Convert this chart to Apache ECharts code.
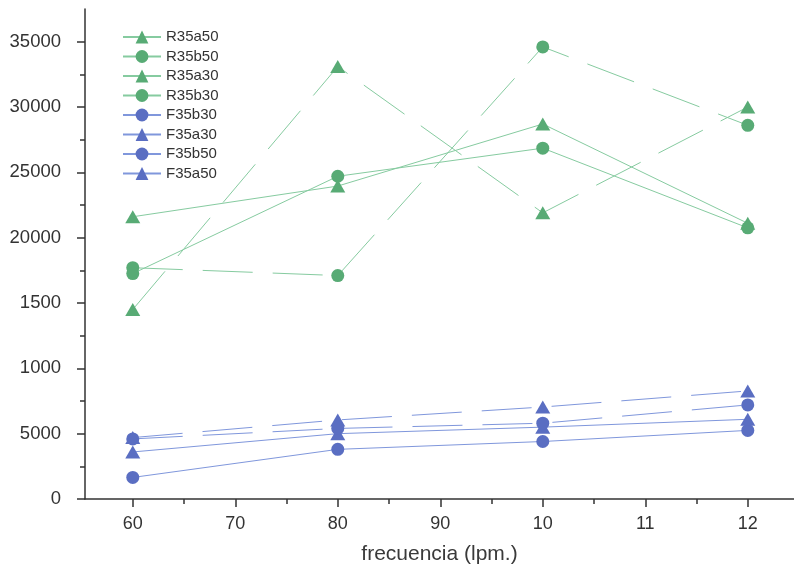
<!DOCTYPE html>
<html>
<head>
<meta charset="utf-8">
<script src="https://cdn.jsdelivr.net/npm/echarts@6/dist/echarts.min.js"></script>
<style>html,body{margin:0;padding:0;background:#fff}#c{width:794px;height:574px}</style>
</head>
<body>
<div id="c"></div>
<script>
var xValues = [60, 80, 100, 120];
var seriesNames = ['R35a50', 'R35b50', 'R35a30', 'R35b30', 'F35b30', 'F35a30', 'F35b50', 'F35a50'];
var R35a50 = [14500, 33100, 21900, 30000];
var R35b50 = [17700, 17100, 34600, 28600];
var R35a30 = [21600, 23950, 28700, 21100];
var R35b30 = [17250, 24700, 26850, 20750];
var F35b30 = [1650, 3800, 4400, 5250];
var F35a30 = [3600, 5000, 5500, 6100];
var F35b50 = [4600, 5400, 5800, 7200];
var F35a50 = [4700, 6050, 7040, 8270];
var xTickValues = [60, 70, 80, 90, 100, 110, 120];
var xTickLabels = ['60', '70', '80', '90', '10', '11', '12'];
var xMinorTicks = [65, 75, 85, 95, 105, 115];
var yTickValues = [0, 5000, 10000, 15000, 20000, 25000, 30000, 35000];
var yTickLabels = ['0', '5000', '1000', '1500', '20000', '25000', '30000', '35000'];
var yMinorTicks = [2500, 7500, 12500, 17500, 22500, 27500, 32500];

var greenMarker = '#58ab75', greenLine = '#86cba0';
var blueMarker = '#5a6ec2', blueLine = '#8097dc';
var FONT = 'Liberation Sans, Arial, sans-serif';

function mk(name, vals, symbol, dashed, green) {
  return {
    name: name, type: 'line', xAxisIndex: 0, yAxisIndex: 0,
    data: xValues.map(function (x, i) { return [x, vals[i]]; }),
    symbol: symbol,
    symbolSize: symbol === 'triangle' ? [15, 13] : 13,
    itemStyle: { color: green ? greenMarker : blueMarker },
    lineStyle: { color: green ? greenLine : blueLine, width: 1, type: dashed ? [50, 20] : 'solid' },
    emphasis: { disabled: true },
    animation: false
  };
}

var series = [
  mk('R35a50', R35a50, 'triangle', true, true),
  mk('R35b50', R35b50, 'circle', true, true),
  mk('R35a30', R35a30, 'triangle', false, true),
  mk('R35b30', R35b30, 'circle', false, true),
  mk('F35b30', F35b30, 'circle', false, false),
  mk('F35a30', F35a30, 'triangle', false, false),
  mk('F35b50', F35b50, 'circle', true, false),
  mk('F35a50', F35a50, 'triangle', true, false)
];

var axisCol = '#333';
var option = {
  animation: false,
  backgroundColor: '#fff',
  grid: { left: 85, right: 0, top: 9, bottom: 75, containLabel: false },
  legend: {
    data: seriesNames,
    orient: 'vertical', left: 117, top: 24, padding: 5,
    itemWidth: 38, itemHeight: 16, itemGap: 3.5,
    textStyle: { fontSize: 15, lineHeight: 16, color: '#333', fontFamily: FONT }
  },
  xAxis: [{
    type: 'value', min: 55.34, max: 124.51,
    axisLine: { show: true, lineStyle: { color: axisCol, width: 1.5 } },
    axisTick: { show: true, customValues: xTickValues, length: 8, lineStyle: { color: axisCol, width: 1.5 } },
    axisLabel: {
      customValues: xTickValues, margin: 16, fontSize: 18, color: '#333', fontFamily: FONT,
      formatter: function (v) { var i = xTickValues.indexOf(v); return i >= 0 ? xTickLabels[i] : ''; }
    },
    splitLine: { show: false },
    name: 'frecuencia (lpm.)', nameLocation: 'middle', nameGap: 45,
    nameTextStyle: { fontSize: 21, color: '#3a3a3a', fontFamily: FONT }
  }, {
    type: 'value', min: 55.34, max: 124.51, position: 'bottom',
    axisLine: { show: false },
    axisTick: { show: true, customValues: xMinorTicks, length: 5, lineStyle: { color: axisCol, width: 1.5 } },
    axisLabel: { show: false },
    splitLine: { show: false }
  }],
  yAxis: [{
    type: 'value', min: 0, max: 37500,
    axisLine: { show: true, lineStyle: { color: axisCol, width: 1.5 } },
    axisTick: { show: true, customValues: yTickValues, length: 8, lineStyle: { color: axisCol, width: 1.5 } },
    axisLabel: {
      customValues: yTickValues, margin: 24, fontSize: 18.5, color: '#333', fontFamily: FONT,
      formatter: function (v) { var i = yTickValues.indexOf(v); return i >= 0 ? yTickLabels[i] : ''; }
    },
    splitLine: { show: false }
  }, {
    type: 'value', min: 0, max: 37500, position: 'left',
    axisLine: { show: false },
    axisTick: { show: true, customValues: yMinorTicks, length: 5, lineStyle: { color: axisCol, width: 1.5 } },
    axisLabel: { show: false },
    splitLine: { show: false }
  }],
  series: series
};
var chart = echarts.init(document.getElementById('c'), null, { renderer: 'canvas' });
chart.setOption(option);
</script>
</body>
</html>
